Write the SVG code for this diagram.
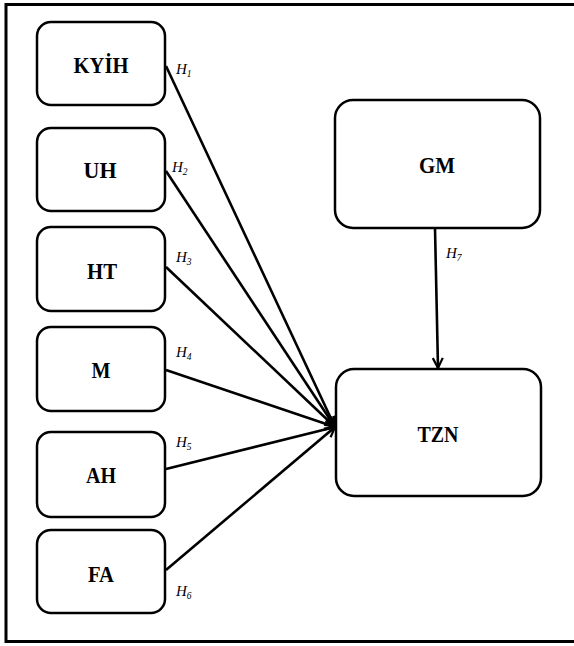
<svg xmlns="http://www.w3.org/2000/svg" width="574" height="646" viewBox="0 0 574 646">
<style>
.box{fill:#fff;stroke:#000;stroke-width:2.5}
.lbl{font-family:"Liberation Serif",serif;font-weight:bold;font-size:23px;text-anchor:middle;fill:#000}
.h{font-family:"Liberation Serif",serif;font-style:italic;font-size:15px;fill:#000}
.h tspan{font-size:9.5px}
.c{stroke:#000;stroke-width:2.6;fill:none}
</style>
<defs>
<marker id="arr" viewBox="0 0 12 12" refX="11" refY="6" markerWidth="12" markerHeight="12" markerUnits="userSpaceOnUse" orient="auto">
<path d="M1,1 L11,6 L1,11" fill="none" stroke="#000" stroke-width="2.2"/>
</marker>
</defs>
<rect x="6" y="4.5" width="580" height="637" fill="#fff" stroke="#000" stroke-width="3"/>
<g id="connectors">
<line class="c" x1="166" y1="66" x2="335" y2="427" marker-end="url(#arr)"/>
<line class="c" x1="166" y1="171" x2="335" y2="427" marker-end="url(#arr)"/>
<line class="c" x1="166" y1="267" x2="335" y2="427" marker-end="url(#arr)"/>
<line class="c" x1="166" y1="370" x2="335" y2="427" marker-end="url(#arr)"/>
<line class="c" x1="166" y1="469" x2="335" y2="427" marker-end="url(#arr)"/>
<line class="c" x1="166" y1="570" x2="335" y2="427" marker-end="url(#arr)"/>
<line class="c" x1="435" y1="228" x2="438" y2="368" marker-end="url(#arr)"/>
<text class="h" x="176" y="74">H<tspan dy="3">1</tspan></text>
<text class="h" x="172" y="172">H<tspan dy="3">2</tspan></text>
<text class="h" x="176" y="262">H<tspan dy="3">3</tspan></text>
<text class="h" x="176" y="357">H<tspan dy="3">4</tspan></text>
<text class="h" x="176" y="447">H<tspan dy="3">5</tspan></text>
<text class="h" x="176" y="596">H<tspan dy="3">6</tspan></text>
<text class="h" x="446" y="258">H<tspan dy="3">7</tspan></text>
</g>
<g id="KYIH"><rect class="box" x="37" y="22" width="128" height="83" rx="14"/><text class="lbl" x="101" y="73" textLength="55" lengthAdjust="spacingAndGlyphs">KYİH</text></g>
<g id="UH"><rect class="box" x="37" y="128" width="128" height="83" rx="14"/><text class="lbl" x="100" y="178" textLength="33" lengthAdjust="spacingAndGlyphs">UH</text></g>
<g id="HT"><rect class="box" x="37" y="227" width="128" height="84" rx="14"/><text class="lbl" x="102" y="279" textLength="30" lengthAdjust="spacingAndGlyphs">HT</text></g>
<g id="M"><rect class="box" x="37" y="327" width="128" height="84" rx="14"/><text class="lbl" x="101" y="378" textLength="19" lengthAdjust="spacingAndGlyphs">M</text></g>
<g id="AH"><rect class="box" x="37" y="432" width="128" height="85" rx="14"/><text class="lbl" x="101" y="483" textLength="30" lengthAdjust="spacingAndGlyphs">AH</text></g>
<g id="FA"><rect class="box" x="37" y="530" width="128" height="83" rx="14"/><text class="lbl" x="101" y="582" textLength="26" lengthAdjust="spacingAndGlyphs">FA</text></g>
<g id="GM"><rect class="box" x="335" y="100" width="205" height="128" rx="18"/><text class="lbl" x="437" y="173" textLength="36" lengthAdjust="spacingAndGlyphs">GM</text></g>
<g id="TZN"><rect class="box" x="336" y="369" width="205" height="127" rx="18"/><text class="lbl" x="438" y="442" textLength="41" lengthAdjust="spacingAndGlyphs">TZN</text></g>
</svg>
